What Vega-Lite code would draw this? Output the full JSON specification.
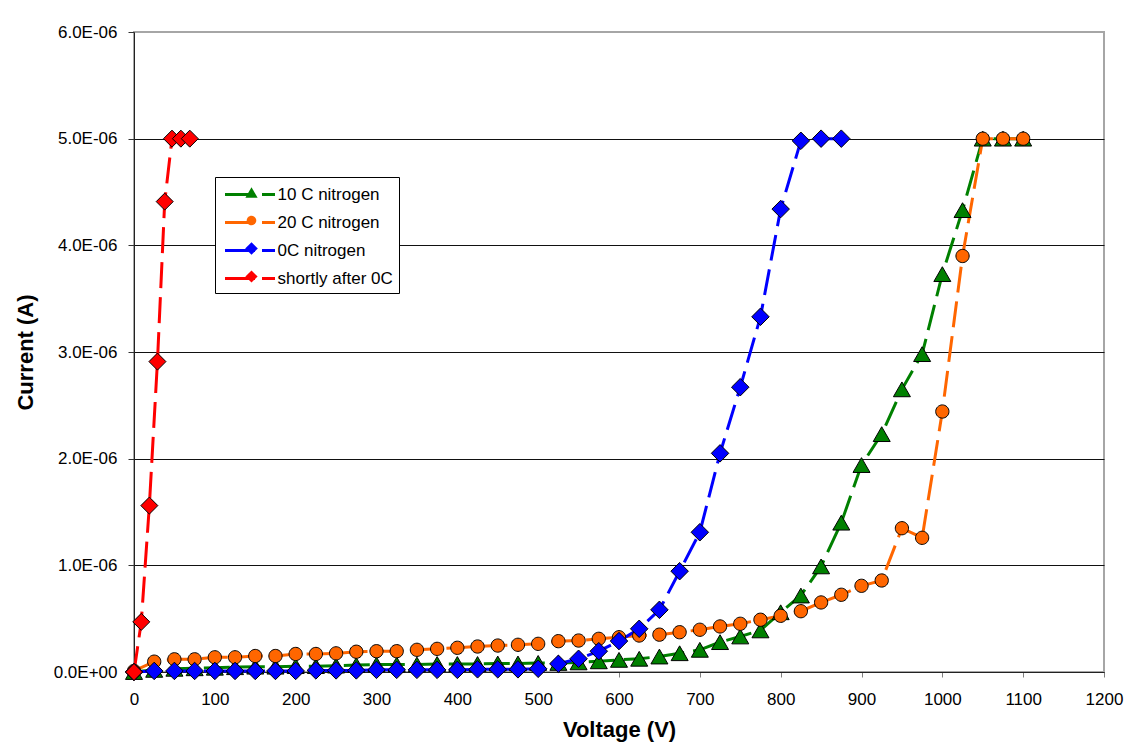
{
  "$schema": "https://vega.github.io/schema/vega-lite/v6.json",
  "width": 970,
  "height": 640,
  "autosize": "none",
  "padding": {"left": 134, "top": 32, "right": 33, "bottom": 76},
  "background": "white",
  "config": {
    "font": "Liberation Sans",
    "view": {"stroke": "#a6a6a6", "strokeWidth": 2},
    "axis": {"labelFont": "Liberation Sans", "titleFont": "Liberation Sans", "labelColor": "black", "titleColor": "black"}
  },
  "data": {"values": [
    {"series": "10 C nitrogen", "voltage": 0, "current": 0},
    {"series": "10 C nitrogen", "voltage": 25, "current": 2e-8},
    {"series": "10 C nitrogen", "voltage": 50, "current": 3e-8},
    {"series": "10 C nitrogen", "voltage": 75, "current": 3.5e-8},
    {"series": "10 C nitrogen", "voltage": 100, "current": 4e-8},
    {"series": "10 C nitrogen", "voltage": 125, "current": 4.5e-8},
    {"series": "10 C nitrogen", "voltage": 150, "current": 5e-8},
    {"series": "10 C nitrogen", "voltage": 175, "current": 5e-8},
    {"series": "10 C nitrogen", "voltage": 200, "current": 5.5e-8},
    {"series": "10 C nitrogen", "voltage": 225, "current": 5.5e-8},
    {"series": "10 C nitrogen", "voltage": 250, "current": 6e-8},
    {"series": "10 C nitrogen", "voltage": 275, "current": 6.5e-8},
    {"series": "10 C nitrogen", "voltage": 300, "current": 7e-8},
    {"series": "10 C nitrogen", "voltage": 325, "current": 7e-8},
    {"series": "10 C nitrogen", "voltage": 350, "current": 7e-8},
    {"series": "10 C nitrogen", "voltage": 375, "current": 7.5e-8},
    {"series": "10 C nitrogen", "voltage": 400, "current": 7.5e-8},
    {"series": "10 C nitrogen", "voltage": 425, "current": 7.5e-8},
    {"series": "10 C nitrogen", "voltage": 450, "current": 8e-8},
    {"series": "10 C nitrogen", "voltage": 475, "current": 8e-8},
    {"series": "10 C nitrogen", "voltage": 500, "current": 8.5e-8},
    {"series": "10 C nitrogen", "voltage": 525, "current": 8.5e-8},
    {"series": "10 C nitrogen", "voltage": 550, "current": 9e-8},
    {"series": "10 C nitrogen", "voltage": 575, "current": 1.0e-7},
    {"series": "10 C nitrogen", "voltage": 600, "current": 1.14e-7},
    {"series": "10 C nitrogen", "voltage": 625, "current": 1.24e-7},
    {"series": "10 C nitrogen", "voltage": 650, "current": 1.45e-7},
    {"series": "10 C nitrogen", "voltage": 675, "current": 1.76e-7},
    {"series": "10 C nitrogen", "voltage": 700, "current": 2.08e-7},
    {"series": "10 C nitrogen", "voltage": 725, "current": 2.8e-7},
    {"series": "10 C nitrogen", "voltage": 750, "current": 3.33e-7},
    {"series": "10 C nitrogen", "voltage": 775, "current": 3.9e-7},
    {"series": "10 C nitrogen", "voltage": 800, "current": 5.6e-7},
    {"series": "10 C nitrogen", "voltage": 825, "current": 7.17e-7},
    {"series": "10 C nitrogen", "voltage": 850, "current": 9.9e-7},
    {"series": "10 C nitrogen", "voltage": 875, "current": 1.40e-6},
    {"series": "10 C nitrogen", "voltage": 900, "current": 1.94e-6},
    {"series": "10 C nitrogen", "voltage": 925, "current": 2.23e-6},
    {"series": "10 C nitrogen", "voltage": 950, "current": 2.65e-6},
    {"series": "10 C nitrogen", "voltage": 975, "current": 2.98e-6},
    {"series": "10 C nitrogen", "voltage": 1000, "current": 3.73e-6},
    {"series": "10 C nitrogen", "voltage": 1025, "current": 4.33e-6},
    {"series": "10 C nitrogen", "voltage": 1050, "current": 5.0e-6},
    {"series": "10 C nitrogen", "voltage": 1075, "current": 5.0e-6},
    {"series": "10 C nitrogen", "voltage": 1100, "current": 5.0e-6},

    {"series": "20 C nitrogen", "voltage": 0, "current": 1e-8},
    {"series": "20 C nitrogen", "voltage": 25, "current": 9.7e-8},
    {"series": "20 C nitrogen", "voltage": 50, "current": 1.19e-7},
    {"series": "20 C nitrogen", "voltage": 75, "current": 1.19e-7},
    {"series": "20 C nitrogen", "voltage": 100, "current": 1.38e-7},
    {"series": "20 C nitrogen", "voltage": 125, "current": 1.38e-7},
    {"series": "20 C nitrogen", "voltage": 150, "current": 1.5e-7},
    {"series": "20 C nitrogen", "voltage": 175, "current": 1.5e-7},
    {"series": "20 C nitrogen", "voltage": 200, "current": 1.69e-7},
    {"series": "20 C nitrogen", "voltage": 225, "current": 1.69e-7},
    {"series": "20 C nitrogen", "voltage": 250, "current": 1.75e-7},
    {"series": "20 C nitrogen", "voltage": 275, "current": 1.9e-7},
    {"series": "20 C nitrogen", "voltage": 300, "current": 1.95e-7},
    {"series": "20 C nitrogen", "voltage": 325, "current": 1.95e-7},
    {"series": "20 C nitrogen", "voltage": 350, "current": 2.08e-7},
    {"series": "20 C nitrogen", "voltage": 375, "current": 2.17e-7},
    {"series": "20 C nitrogen", "voltage": 400, "current": 2.27e-7},
    {"series": "20 C nitrogen", "voltage": 425, "current": 2.39e-7},
    {"series": "20 C nitrogen", "voltage": 450, "current": 2.48e-7},
    {"series": "20 C nitrogen", "voltage": 475, "current": 2.55e-7},
    {"series": "20 C nitrogen", "voltage": 500, "current": 2.64e-7},
    {"series": "20 C nitrogen", "voltage": 525, "current": 2.89e-7},
    {"series": "20 C nitrogen", "voltage": 550, "current": 2.95e-7},
    {"series": "20 C nitrogen", "voltage": 575, "current": 3.11e-7},
    {"series": "20 C nitrogen", "voltage": 600, "current": 3.26e-7},
    {"series": "20 C nitrogen", "voltage": 625, "current": 3.42e-7},
    {"series": "20 C nitrogen", "voltage": 650, "current": 3.5e-7},
    {"series": "20 C nitrogen", "voltage": 675, "current": 3.73e-7},
    {"series": "20 C nitrogen", "voltage": 700, "current": 3.96e-7},
    {"series": "20 C nitrogen", "voltage": 725, "current": 4.27e-7},
    {"series": "20 C nitrogen", "voltage": 750, "current": 4.52e-7},
    {"series": "20 C nitrogen", "voltage": 775, "current": 4.9e-7},
    {"series": "20 C nitrogen", "voltage": 800, "current": 5.27e-7},
    {"series": "20 C nitrogen", "voltage": 825, "current": 5.7e-7},
    {"series": "20 C nitrogen", "voltage": 850, "current": 6.52e-7},
    {"series": "20 C nitrogen", "voltage": 875, "current": 7.24e-7},
    {"series": "20 C nitrogen", "voltage": 900, "current": 8.08e-7},
    {"series": "20 C nitrogen", "voltage": 925, "current": 8.58e-7},
    {"series": "20 C nitrogen", "voltage": 950, "current": 1.348e-6},
    {"series": "20 C nitrogen", "voltage": 975, "current": 1.258e-6},
    {"series": "20 C nitrogen", "voltage": 1000, "current": 2.442e-6},
    {"series": "20 C nitrogen", "voltage": 1025, "current": 3.90e-6},
    {"series": "20 C nitrogen", "voltage": 1050, "current": 5.0e-6},
    {"series": "20 C nitrogen", "voltage": 1075, "current": 5.0e-6},
    {"series": "20 C nitrogen", "voltage": 1100, "current": 5.0e-6},

    {"series": "0C nitrogen", "voltage": 0, "current": 0},
    {"series": "0C nitrogen", "voltage": 25, "current": 1e-8},
    {"series": "0C nitrogen", "voltage": 50, "current": 1e-8},
    {"series": "0C nitrogen", "voltage": 75, "current": 1e-8},
    {"series": "0C nitrogen", "voltage": 100, "current": 1e-8},
    {"series": "0C nitrogen", "voltage": 125, "current": 1e-8},
    {"series": "0C nitrogen", "voltage": 150, "current": 1e-8},
    {"series": "0C nitrogen", "voltage": 175, "current": 1e-8},
    {"series": "0C nitrogen", "voltage": 200, "current": 1e-8},
    {"series": "0C nitrogen", "voltage": 225, "current": 1.5e-8},
    {"series": "0C nitrogen", "voltage": 250, "current": 1.5e-8},
    {"series": "0C nitrogen", "voltage": 275, "current": 1.5e-8},
    {"series": "0C nitrogen", "voltage": 300, "current": 2e-8},
    {"series": "0C nitrogen", "voltage": 325, "current": 2e-8},
    {"series": "0C nitrogen", "voltage": 350, "current": 2e-8},
    {"series": "0C nitrogen", "voltage": 375, "current": 2e-8},
    {"series": "0C nitrogen", "voltage": 400, "current": 2e-8},
    {"series": "0C nitrogen", "voltage": 425, "current": 2.5e-8},
    {"series": "0C nitrogen", "voltage": 450, "current": 2.5e-8},
    {"series": "0C nitrogen", "voltage": 475, "current": 2.5e-8},
    {"series": "0C nitrogen", "voltage": 500, "current": 3e-8},
    {"series": "0C nitrogen", "voltage": 525, "current": 7.7e-8},
    {"series": "0C nitrogen", "voltage": 550, "current": 1.24e-7},
    {"series": "0C nitrogen", "voltage": 575, "current": 1.95e-7},
    {"series": "0C nitrogen", "voltage": 600, "current": 2.9e-7},
    {"series": "0C nitrogen", "voltage": 625, "current": 4.05e-7},
    {"series": "0C nitrogen", "voltage": 650, "current": 5.83e-7},
    {"series": "0C nitrogen", "voltage": 675, "current": 9.45e-7},
    {"series": "0C nitrogen", "voltage": 700, "current": 1.31e-6},
    {"series": "0C nitrogen", "voltage": 725, "current": 2.05e-6},
    {"series": "0C nitrogen", "voltage": 750, "current": 2.67e-6},
    {"series": "0C nitrogen", "voltage": 775, "current": 3.33e-6},
    {"series": "0C nitrogen", "voltage": 800, "current": 4.34e-6},
    {"series": "0C nitrogen", "voltage": 825, "current": 4.98e-6},
    {"series": "0C nitrogen", "voltage": 850, "current": 5.0e-6},
    {"series": "0C nitrogen", "voltage": 875, "current": 5.0e-6},

    {"series": "shortly after 0C", "voltage": 0, "current": 0},
    {"series": "shortly after 0C", "voltage": 9, "current": 4.7e-7},
    {"series": "shortly after 0C", "voltage": 19, "current": 1.56e-6},
    {"series": "shortly after 0C", "voltage": 29, "current": 2.91e-6},
    {"series": "shortly after 0C", "voltage": 38, "current": 4.41e-6},
    {"series": "shortly after 0C", "voltage": 47, "current": 5.0e-6},
    {"series": "shortly after 0C", "voltage": 58, "current": 5.0e-6},
    {"series": "shortly after 0C", "voltage": 69, "current": 5.0e-6}
  ]},
  "encoding": {
    "x": {
      "field": "voltage", "type": "quantitative",
      "scale": {"domain": [0, 1200], "nice": false, "zero": true},
      "axis": {
        "title": "Voltage (V)",
        "values": [0, 100, 200, 300, 400, 500, 600, 700, 800, 900, 1000, 1100, 1200],
        "format": "d",
        "grid": false,
        "domainColor": "#222", "domainWidth": 1,
        "tickColor": "#808080", "tickSize": 5, "tickWidth": 1,
        "labelFontSize": 17, "labelPadding": 14, "labelFlush": false, "labelOverlap": false,
        "titleFontSize": 22, "titleFontWeight": "bold", "titlePadding": 12
      }
    },
    "y": {
      "field": "current", "type": "quantitative",
      "scale": {"domain": [0, 6e-6], "nice": false, "zero": true},
      "axis": {
        "title": "Current (A)",
        "values": [0, 1e-6, 2e-6, 3e-6, 4e-6, 5e-6, 6e-6],
        "labelExpr": "datum.value == 0 ? '0.0E+00' : format(datum.value * 1000000, '.1f') + 'E-06'",
        "grid": true,
        "gridColor": {"condition": {"test": "datum.value > 5.5e-6", "value": "#a6a6a6"}, "value": "#111"},
        "gridWidth": 1,
        "domainColor": "#222", "domainWidth": 1,
        "tickColor": "#333", "tickSize": 6, "tickWidth": 1,
        "labelFontSize": 17, "labelPadding": 11, "labelOverlap": false,
        "titleFontSize": 22, "titleFontWeight": "bold", "titlePadding": 16
      }
    }
  },
  "layer": [
    {
      "mark": {"type": "line", "strokeWidth": 3, "strokeDash": [26, 9]},
      "encoding": {
        "stroke": {
          "field": "series", "type": "nominal",
          "sort": ["10 C nitrogen", "20 C nitrogen", "0C nitrogen", "shortly after 0C"],
          "scale": {"range": ["#008000", "#FF6600", "#0000FF", "#FF0000"]},
          "legend": {
            "orient": "none", "legendX": 81, "legendY": 145,
            "zindex": 1,
            "title": null,
            "symbolType": "M-2.5,0H2.5",
            "symbolSize": 400,
            "symbolStrokeWidth": 3,
            "symbolDash": [30, 7],
            "symbolOffset": 17.5,
            "labelOffset": 16,
            "labelFont": "Liberation Sans", "labelFontSize": 17, "labelColor": "black",
            "strokeColor": "black", "fillColor": "white",
            "padding": 6, "rowPadding": 8
          }
        }
      }
    },
    {
      "mark": {"type": "point", "filled": true, "stroke": "black", "strokeWidth": 1, "opacity": 1, "size": 289},
      "encoding": {
        "fill": {
          "field": "series", "type": "nominal",
          "scale": {"domain": ["10 C nitrogen", "20 C nitrogen", "0C nitrogen", "shortly after 0C"], "range": ["#008000", "#FF6600", "#0000FF", "#FF0000"]},
          "legend": {
            "orient": "none", "legendX": 109, "legendY": 152,
            "zindex": 2,
            "title": null,
            "symbolSize": 150,
            "symbolStrokeColor": "black", "symbolStrokeWidth": 1,
            "labelFontSize": 17, "labelExpr": "''",
            "padding": 0, "rowPadding": 10
          }
        },
        "shape": {
          "field": "series", "type": "nominal",
          "scale": {"domain": ["10 C nitrogen", "20 C nitrogen", "0C nitrogen", "shortly after 0C"], "range": ["M0,-0.87L1,0.87L-1,0.87Z", "M0.78,0A0.78,0.78,0,1,1,-0.78,0A0.78,0.78,0,1,1,0.78,0Z", "M0,-1.03L1.03,0L0,1.03L-1.03,0Z", "M0,-1L1,0L0,1L-1,0Z"]},
          "legend": {
            "orient": "none", "legendX": 109, "legendY": 152,
            "zindex": 2,
            "title": null,
            "symbolSize": 150,
            "symbolStrokeColor": "black", "symbolStrokeWidth": 1,
            "labelFontSize": 17, "labelExpr": "''",
            "padding": 0, "rowPadding": 10
          }
        }
      }
    }
  ]
}
